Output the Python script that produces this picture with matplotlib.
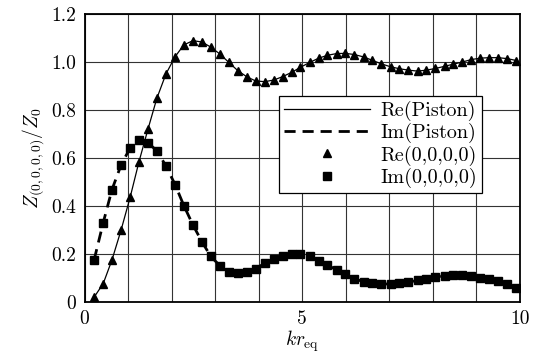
import matplotlib
matplotlib.use('Agg')
from matplotlib import pyplot as plt
from matplotlib.ticker import MultipleLocator

plt.rcParams['font.family'] = ['cmr10', 'DejaVu Serif']
plt.rcParams['mathtext.fontset'] = 'cm'
plt.rcParams['axes.formatter.use_mathtext'] = True

# kr_eq sample points
kr = [0.22, 0.43, 0.63, 0.84, 1.05, 1.25, 1.46, 1.66, 1.87, 2.08,
      2.28, 2.49, 2.70, 2.90, 3.11, 3.31, 3.52, 3.73, 3.93, 4.14,
      4.35, 4.55, 4.76, 4.96, 5.17, 5.38, 5.58, 5.79, 5.99, 6.20,
      6.41, 6.61, 6.82, 7.03, 7.23, 7.44, 7.65, 7.85, 8.06, 8.27,
      8.47, 8.68, 8.88, 9.09, 9.30, 9.50, 9.71, 9.92]

# real part
re_z = [0.020, 0.077, 0.175, 0.300, 0.438, 0.584, 0.722, 0.848, 0.950, 1.022,
        1.071, 1.089, 1.083, 1.062, 1.033, 0.999, 0.964, 0.938, 0.921, 0.918,
        0.925, 0.939, 0.957, 0.978, 0.998, 1.016, 1.028, 1.035, 1.036, 1.031,
        1.021, 1.007, 0.992, 0.980, 0.972, 0.966, 0.962, 0.966, 0.973, 0.982,
        0.991, 1.000, 1.010, 1.016, 1.018, 1.018, 1.014, 1.006]

# imaginary part
im_z = [0.175, 0.331, 0.468, 0.571, 0.643, 0.675, 0.663, 0.630, 0.567, 0.489,
        0.402, 0.321, 0.250, 0.190, 0.151, 0.125, 0.121, 0.126, 0.139, 0.161,
        0.180, 0.190, 0.198, 0.198, 0.190, 0.172, 0.153, 0.134, 0.116, 0.096,
        0.085, 0.078, 0.074, 0.076, 0.079, 0.083, 0.090, 0.097, 0.104, 0.110,
        0.113, 0.113, 0.108, 0.102, 0.095, 0.086, 0.077, 0.057]

yticks = [0, 0.2, 0.4, 0.6, 0.8, 1.0, 1.2]
ylabels = ['0', '0.2', '0.4', '0.6', '0.8', '1.0', '1.2']
xticks = [0, 5, 10]

fig = plt.figure(figsize=(5.36, 3.55), dpi=100)
ax = fig.add_axes([0.1577, 0.1493, 0.8123, 0.8113])

ax.plot(kr, re_z, color='black', linestyle='-', linewidth=0.9, label='Re(Piston)')
ax.plot(kr, im_z, color='black', linestyle=(0, (4, 2.5)), linewidth=2.0, label='Im(Piston)')
ax.plot(kr, re_z, color='black', linestyle='none', marker='^', markersize=6.2, label='Re(0,0,0,0)')
ax.plot(kr, im_z, color='black', linestyle='none', marker='s', markersize=5.4, label='Im(0,0,0,0)')

ax.set_xlim(0, 10)
ax.set_ylim(0, 1.2)
ax.set_xticks(xticks)
ax.set_xticklabels([str(t) for t in xticks])
ax.xaxis.set_minor_locator(MultipleLocator(1))
ax.set_yticks(yticks)
ax.set_yticklabels(ylabels)
ax.tick_params(which='both', length=0, labelsize=14, pad=6)
ax.grid(True, which='both', color='#333333', linewidth=0.8)
for s in ax.spines.values():
    s.set_linewidth(1.3)

ax.set_xlabel(r'$kr_{\rm eq}$', fontsize=14, labelpad=0)
ax.set_ylabel(r'$Z_{(0,0,0,0)}/Z_0$', fontsize=14, labelpad=4)

leg = ax.legend(loc='upper right', bbox_to_anchor=(0.913, 0.715), fontsize=14.5,
                frameon=True, fancybox=False, framealpha=1, edgecolor='black',
                handlelength=4.3, handletextpad=0.5, borderpad=0.25,
                labelspacing=0.1, borderaxespad=0)
leg.get_frame().set_linewidth(0.9)
for t in leg.get_texts():
    t.set_ha('right')

fig.savefig('out.png', dpi=100)
